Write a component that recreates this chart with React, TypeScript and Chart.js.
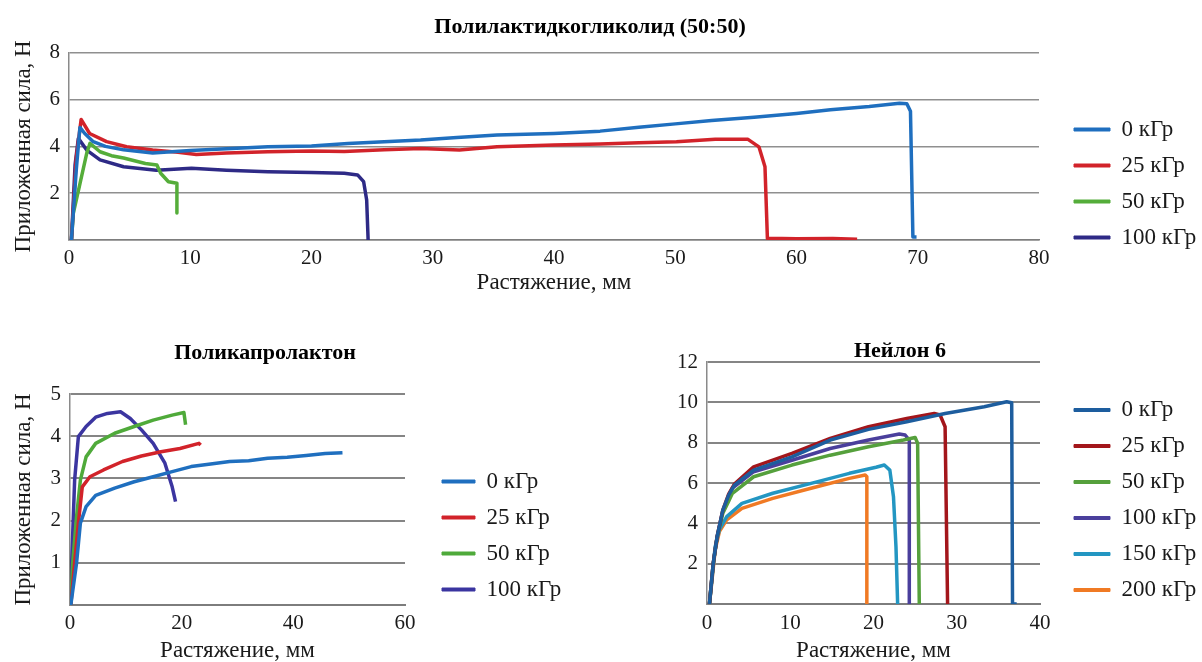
import React, { useEffect, useRef } from "react";
import { Chart, registerables } from "chart.js";

Chart.register(...registerables);

const FONT = "'Liberation Serif', 'Times New Roman', serif";
const TEXT = "#1a1a1a";
const TICK_SIZE = 21;
const LEGEND_SIZE = 23;
const LEGEND_PAD = 13;
const AXIS_TITLE_SIZE = 23;
const TITLE_SIZE = 22;

// ---------- common texts ----------
const X_TITLE = "Растяжение, мм";
const Y_TITLE = "Приложенная сила, Н";

// ---------- PLGA (top) ----------
const PLGA_TITLE = "Полилактидкогликолид (50:50)";
const PLGA_LABELS = ["0 кГр", "25 кГр", "50 кГр", "100 кГр"];
const PLGA_COLORS = ["#1f6fbf", "#d2232a", "#55ad3a", "#2e2a86"];
const PLGA_X_0 = [0.2, 0.6, 0.9, 1.3, 2.0, 3.0, 4.5, 6.9, 10.0, 13.0, 16.4, 20.0, 23.0, 26.0, 29.0, 32.0, 35.3, 40.0, 43.8, 47.0, 50.0, 53.0, 56.5, 60.0, 62.8, 66.0, 68.5, 69.1, 69.4, 69.6, 69.9];
const PLGA_Y_0 = [0, 3.0, 4.81, 4.55, 4.2, 4.0, 3.85, 3.72, 3.82, 3.9, 3.98, 4.02, 4.12, 4.2, 4.27, 4.38, 4.48, 4.55, 4.65, 4.82, 4.96, 5.1, 5.24, 5.4, 5.56, 5.7, 5.84, 5.82, 5.5, 0.13, 0.13];
const PLGA_X_25 = [0.2, 0.6, 1.0, 1.7, 3.1, 4.75, 6.9, 9.0, 10.5, 13.0, 16.4, 20.0, 22.7, 26.0, 29.0, 32.2, 35.3, 40.0, 43.8, 47.0, 50.1, 53.3, 56.0, 56.9, 57.4, 57.6, 60.0, 63.0, 65.0];
const PLGA_Y_25 = [0, 3.5, 5.15, 4.55, 4.2, 3.98, 3.84, 3.75, 3.65, 3.72, 3.77, 3.8, 3.78, 3.85, 3.91, 3.84, 3.98, 4.06, 4.1, 4.15, 4.2, 4.3, 4.3, 3.98, 3.13, 0.07, 0.05, 0.06, 0.03];
const PLGA_X_50 = [0.2, 0.36, 0.85, 1.46, 1.73, 2.56, 3.5, 4.5, 6.3, 7.25, 7.56, 8.2, 8.9, 8.9];
const PLGA_Y_50 = [0, 1.15, 2.28, 3.7, 4.13, 3.77, 3.6, 3.5, 3.27, 3.2, 2.85, 2.49, 2.42, 1.15];
const PLGA_X_100 = [0.2, 0.5, 0.77, 1.46, 2.56, 4.5, 7.2, 10.1, 13.0, 16.4, 20.0, 22.7, 23.8, 24.3, 24.55, 24.67];
const PLGA_Y_100 = [0, 3.2, 4.34, 3.84, 3.42, 3.13, 2.98, 3.06, 2.98, 2.92, 2.88, 2.85, 2.78, 2.49, 1.71, 0];

// ---------- PCL (bottom left) ----------
const PCL_TITLE = "Поликапролактон";
const PCL_LABELS = ["0 кГр", "25 кГр", "50 кГр", "100 кГр"];
const PCL_COLORS = ["#1f6fbf", "#d2232a", "#4faa3a", "#3b35a0"];
const PCL_X_0 = [0.14, 1.17, 1.86, 2.88, 4.6, 8.0, 11.5, 14.9, 18.3, 21.7, 25.2, 28.6, 32.0, 35.4, 38.9, 42.3, 45.7, 48.8];
const PCL_Y_0 = [0, 0.99, 1.94, 2.33, 2.6, 2.77, 2.92, 3.04, 3.16, 3.28, 3.34, 3.4, 3.42, 3.48, 3.5, 3.54, 3.59, 3.61];
const PCL_X_25 = [0.14, 0.83, 1.5, 2.2, 3.57, 6.0, 9.4, 12.8, 16.3, 19.7, 23.1, 23.4];
const PCL_Y_25 = [0, 0.99, 1.94, 2.8, 3.04, 3.2, 3.4, 3.53, 3.63, 3.71, 3.83, 3.79];
const PCL_X_50 = [0.14, 0.48, 1.17, 1.86, 2.88, 4.6, 8.0, 11.5, 14.9, 18.3, 20.4, 20.7];
const PCL_Y_50 = [0, 0.99, 2.09, 2.96, 3.51, 3.83, 4.07, 4.23, 4.38, 4.5, 4.56, 4.27];
const PCL_X_100 = [0.1, 0.3, 0.83, 1.5, 2.88, 4.6, 6.7, 9.05, 10.8, 12.8, 14.9, 17.0, 18.3, 18.9];
const PCL_Y_100 = [0, 0.99, 2.96, 3.99, 4.23, 4.45, 4.54, 4.58, 4.42, 4.15, 3.83, 3.36, 2.8, 2.45];

// ---------- Nylon 6 (bottom right) ----------
const NYL_TITLE = "Нейлон 6";
const NYL_LABELS = ["0 кГр", "25 кГр", "50 кГр", "100 кГр", "150 кГр", "200 кГр"];
const NYL_COLORS = ["#1d5d9e", "#a3161b", "#55a03c", "#4a3f9c", "#2396c2", "#f07a24"];
const NYL_X_0 = [0.29, 0.75, 1.21, 1.9, 2.6, 3.29, 5.6, 10.2, 14.8, 19.4, 24.0, 28.6, 33.3, 36.0, 36.6, 36.7, 37.2];
const NYL_Y_0 = [0, 2.02, 3.34, 4.66, 5.4, 5.9, 6.64, 7.3, 8.13, 8.66, 9.04, 9.45, 9.78, 10.03, 9.98, 0, 0];
const NYL_X_25 = [0.29, 0.75, 1.21, 1.9, 2.6, 3.29, 5.6, 10.2, 14.8, 19.4, 24.0, 27.3, 28.0, 28.6, 28.9];
const NYL_Y_25 = [0, 2.02, 3.34, 4.66, 5.45, 5.95, 6.8, 7.47, 8.21, 8.79, 9.2, 9.45, 9.37, 8.79, 0];
const NYL_X_50 = [0.29, 0.75, 1.21, 1.9, 2.6, 3.05, 5.6, 10.2, 14.8, 19.4, 23.6, 25.0, 25.3, 25.5];
const NYL_Y_50 = [0, 2.0, 3.3, 4.5, 5.1, 5.49, 6.31, 6.89, 7.38, 7.8, 8.13, 8.26, 7.97, 0];
const NYL_X_100 = [0.29, 0.75, 1.21, 1.9, 2.6, 3.05, 5.6, 10.2, 14.8, 19.4, 23.1, 23.8, 24.3, 24.3];
const NYL_Y_100 = [0, 2.0, 3.3, 4.6, 5.3, 5.74, 6.56, 7.13, 7.71, 8.13, 8.43, 8.38, 8.13, 0];
const NYL_X_150 = [0.3, 0.98, 1.5, 2.37, 4.2, 7.9, 12.5, 17.1, 20.3, 21.3, 21.96, 22.4, 22.7, 22.9];
const NYL_Y_150 = [0, 2.84, 3.7, 4.33, 4.99, 5.49, 5.98, 6.48, 6.78, 6.89, 6.64, 5.32, 2.84, 0];
const NYL_X_200 = [0.3, 0.98, 1.5, 2.37, 4.2, 7.9, 12.5, 17.1, 19.0, 19.2, 19.2];
const NYL_Y_200 = [0, 2.68, 3.6, 4.17, 4.74, 5.24, 5.74, 6.23, 6.4, 6.31, 0];

type Spec = {
  title: string;
  titleLH: number;
  titlePad: { top: number; bottom: number };
  labels: string[];
  colors: string[];
  xs: number[][];
  ys: number[][];
  xMax: number;
  xStep: number;
  yMax: number;
  yStep: number;
  yTitle: string | null;
  // page-level layout targets
  canvasLeft: number;
  canvasTop: number;
  canvasW: number;
  canvasH: number;
  chartLeft: number;
  chartRight: number;
  chartBottom: number;
  titleCenterX: number;
  yTitleCenterX: number;
  xTitleCenterY: number;
  legendLineLeft: number;
  boxWidth: number;
  xTickPad: number;
  gridColor: string;
  gridWidth: number;
};

function measure(texts: string[], size: number): number {
  const c = document.createElement("canvas").getContext("2d")!;
  c.font = `${size}px ${FONT}`;
  return Math.max(...texts.map((t) => c.measureText(t).width));
}

function buildConfig(s: Spec): any {
  const textW = measure(s.labels, LEGEND_SIZE);
  const legendW = LEGEND_PAD + s.boxWidth + LEGEND_SIZE / 2 + textW + 10;
  const gap = s.legendLineLeft - s.chartRight - LEGEND_PAD;
  const legendRight = s.chartRight + gap + legendW;
  const boxStart = 2 * s.titleCenterX - legendRight;
  const padLeft = boxStart - s.canvasLeft;
  const padRight = s.canvasLeft + s.canvasW - legendRight;
  const yAxisWidth = s.chartLeft - boxStart;
  const yTitlePad = s.yTitleCenterX - boxStart - (AXIS_TITLE_SIZE * 1.2) / 2;
  const xAxisHeight = s.canvasTop + s.canvasH - s.chartBottom;
  const xTitlePad = s.canvasTop + s.canvasH - s.xTitleCenterY - (AXIS_TITLE_SIZE * 1.2) / 2;

  const datasets = s.labels.map((label, i) => ({
    label,
    data: s.xs[i].map((x, k) => ({ x, y: s.ys[i][k] })),
    borderColor: s.colors[i],
    backgroundColor: s.colors[i],
    borderWidth: 3.5,
    pointRadius: 0,
    showLine: true,
    tension: 0,
    borderJoinStyle: "round",
  }));
  return {
    type: "scatter",
    data: { datasets },
    options: {
      responsive: false,
      maintainAspectRatio: false,
      animation: false,
      layout: { padding: { left: padLeft, top: 0, bottom: 0, right: padRight } },
      plugins: {
        tooltip: { enabled: false },
        title: {
          display: true,
          text: s.title,
          color: "#000",
          fullSize: true,
          font: { family: FONT, size: TITLE_SIZE, weight: "bold", lineHeight: s.titleLH },
          padding: s.titlePad,
        },
        legend: {
          display: true,
          position: "right",
          align: "center",
          labels: {
            boxWidth: s.boxWidth,
            boxHeight: 3,
            padding: LEGEND_PAD,
            color: TEXT,
            font: { family: FONT, size: LEGEND_SIZE },
            generateLabels: (chart: any) =>
              (Chart.defaults as any).plugins.legend.labels
                .generateLabels(chart)
                .map((it: any) => ({ ...it, lineWidth: 1 })),
          },
        },
      },
      scales: {
        x: {
          type: "linear",
          position: "bottom",
          min: 0,
          max: s.xMax,
          ticks: {
            stepSize: s.xStep,
            padding: s.xTickPad,
            color: TEXT,
            maxRotation: 0,
            autoSkip: false,
            font: { family: FONT, size: TICK_SIZE },
          },
          grid: { display: false, drawTicks: false },
          border: { display: true, color: "#7d7d7d", width: s.gridWidth },
          title: {
            display: true,
            text: X_TITLE,
            color: TEXT,
            font: { family: FONT, size: AXIS_TITLE_SIZE },
            padding: { top: 0, bottom: xTitlePad },
          },
          afterFit: (sc: any) => {
            sc.height = xAxisHeight;
          },
        },
        y: {
          type: "linear",
          position: "left",
          min: 0,
          max: s.yMax,
          ticks: {
            stepSize: s.yStep,
            padding: 9,
            color: TEXT,
            font: { family: FONT, size: TICK_SIZE },
            callback: (v: any) => (v === 0 ? "" : String(v)),
          },
          grid: { color: s.gridColor, lineWidth: s.gridWidth, drawTicks: false },
          border: { display: true, color: "#8a8a8a", width: 1.5 },
          title: {
            display: !!s.yTitle,
            text: s.yTitle || "",
            color: TEXT,
            font: { family: FONT, size: AXIS_TITLE_SIZE },
            padding: { top: yTitlePad, bottom: 0 },
          },
          afterFit: (sc: any) => {
            sc.width = yAxisWidth;
          },
        },
        gap: {
          type: "linear",
          position: "right",
          display: false,
          grid: { display: false, drawTicks: false },
          ticks: { display: false },
          border: { display: false },
          afterFit: (sc: any) => {
            sc.width = gap;
          },
        },
      },
    },
  };
}

const PLGA_SPEC: Spec = {
  title: PLGA_TITLE,
  titleLH: 1.2,
  titlePad: { top: 13.8, bottom: 12.5 },
  labels: PLGA_LABELS,
  colors: PLGA_COLORS,
  xs: [PLGA_X_0, PLGA_X_25, PLGA_X_50, PLGA_X_100],
  ys: [PLGA_Y_0, PLGA_Y_25, PLGA_Y_50, PLGA_Y_100],
  xMax: 80,
  xStep: 10,
  yMax: 8,
  yStep: 2,
  yTitle: Y_TITLE,
  canvasLeft: -100,
  canvasTop: 0,
  canvasW: 1320,
  canvasH: 367,
  chartLeft: 69,
  chartRight: 1039,
  chartBottom: 240,
  titleCenterX: 590,
  yTitleCenterX: 24,
  xTitleCenterY: 283,
  legendLineLeft: 1074,
  boxWidth: 36,
  xTickPad: 5.4,
  gridColor: "#8f8f8f",
  gridWidth: 1.5,
};

const PCL_SPEC: Spec = {
  title: PCL_TITLE,
  titleLH: 1.2,
  titlePad: { top: 19.8, bottom: 27.8 },
  labels: PCL_LABELS,
  colors: PCL_COLORS,
  xs: [PCL_X_0, PCL_X_25, PCL_X_50, PCL_X_100],
  ys: [PCL_Y_0, PCL_Y_25, PCL_Y_50, PCL_Y_100],
  xMax: 60,
  xStep: 20,
  yMax: 5,
  yStep: 1,
  yTitle: Y_TITLE,
  canvasLeft: -100,
  canvasTop: 320,
  canvasW: 720,
  canvasH: 431,
  chartLeft: 70,
  chartRight: 405,
  chartBottom: 605,
  titleCenterX: 265,
  yTitleCenterX: 24,
  xTitleCenterY: 651,
  legendLineLeft: 442,
  boxWidth: 33,
  xTickPad: 5.4,
  gridColor: "#858585",
  gridWidth: 2,
};

const NYL_SPEC: Spec = {
  title: NYL_TITLE,
  titleLH: 1.0,
  titlePad: { top: 20, bottom: 0 },
  labels: NYL_LABELS,
  colors: NYL_COLORS,
  xs: [NYL_X_0, NYL_X_25, NYL_X_50, NYL_X_100, NYL_X_150, NYL_X_200],
  ys: [NYL_Y_0, NYL_Y_25, NYL_Y_50, NYL_Y_100, NYL_Y_150, NYL_Y_200],
  xMax: 40,
  xStep: 10,
  yMax: 12,
  yStep: 2,
  yTitle: null,
  canvasLeft: 500,
  canvasTop: 320,
  canvasW: 730,
  canvasH: 360,
  chartLeft: 707,
  chartRight: 1040,
  chartBottom: 604,
  titleCenterX: 900,
  yTitleCenterX: 0,
  xTitleCenterY: 651,
  legendLineLeft: 1074,
  boxWidth: 36,
  xTickPad: 6.4,
  gridColor: "#858585",
  gridWidth: 2,
};

function ChartCanvas(props: { spec: Spec }) {
  const ref = useRef<HTMLCanvasElement | null>(null);
  const s = props.spec;
  useEffect(() => {
    if (!ref.current) return;
    const chart = new Chart(ref.current, buildConfig(s));
    return () => chart.destroy();
  }, []);
  return (
    <canvas
      ref={ref}
      width={s.canvasW}
      height={s.canvasH}
      style={{
        position: "absolute",
        left: s.canvasLeft,
        top: s.canvasTop,
        width: s.canvasW,
        height: s.canvasH,
      }}
    />
  );
}

export default function App() {
  return (
    <div
      style={{
        position: "fixed",
        left: 0,
        top: 0,
        width: 1202,
        height: 662,
        overflow: "hidden",
        background: "#ffffff",
      }}
    >
      <ChartCanvas spec={PCL_SPEC} />
      <ChartCanvas spec={NYL_SPEC} />
      <ChartCanvas spec={PLGA_SPEC} />
    </div>
  );
}
